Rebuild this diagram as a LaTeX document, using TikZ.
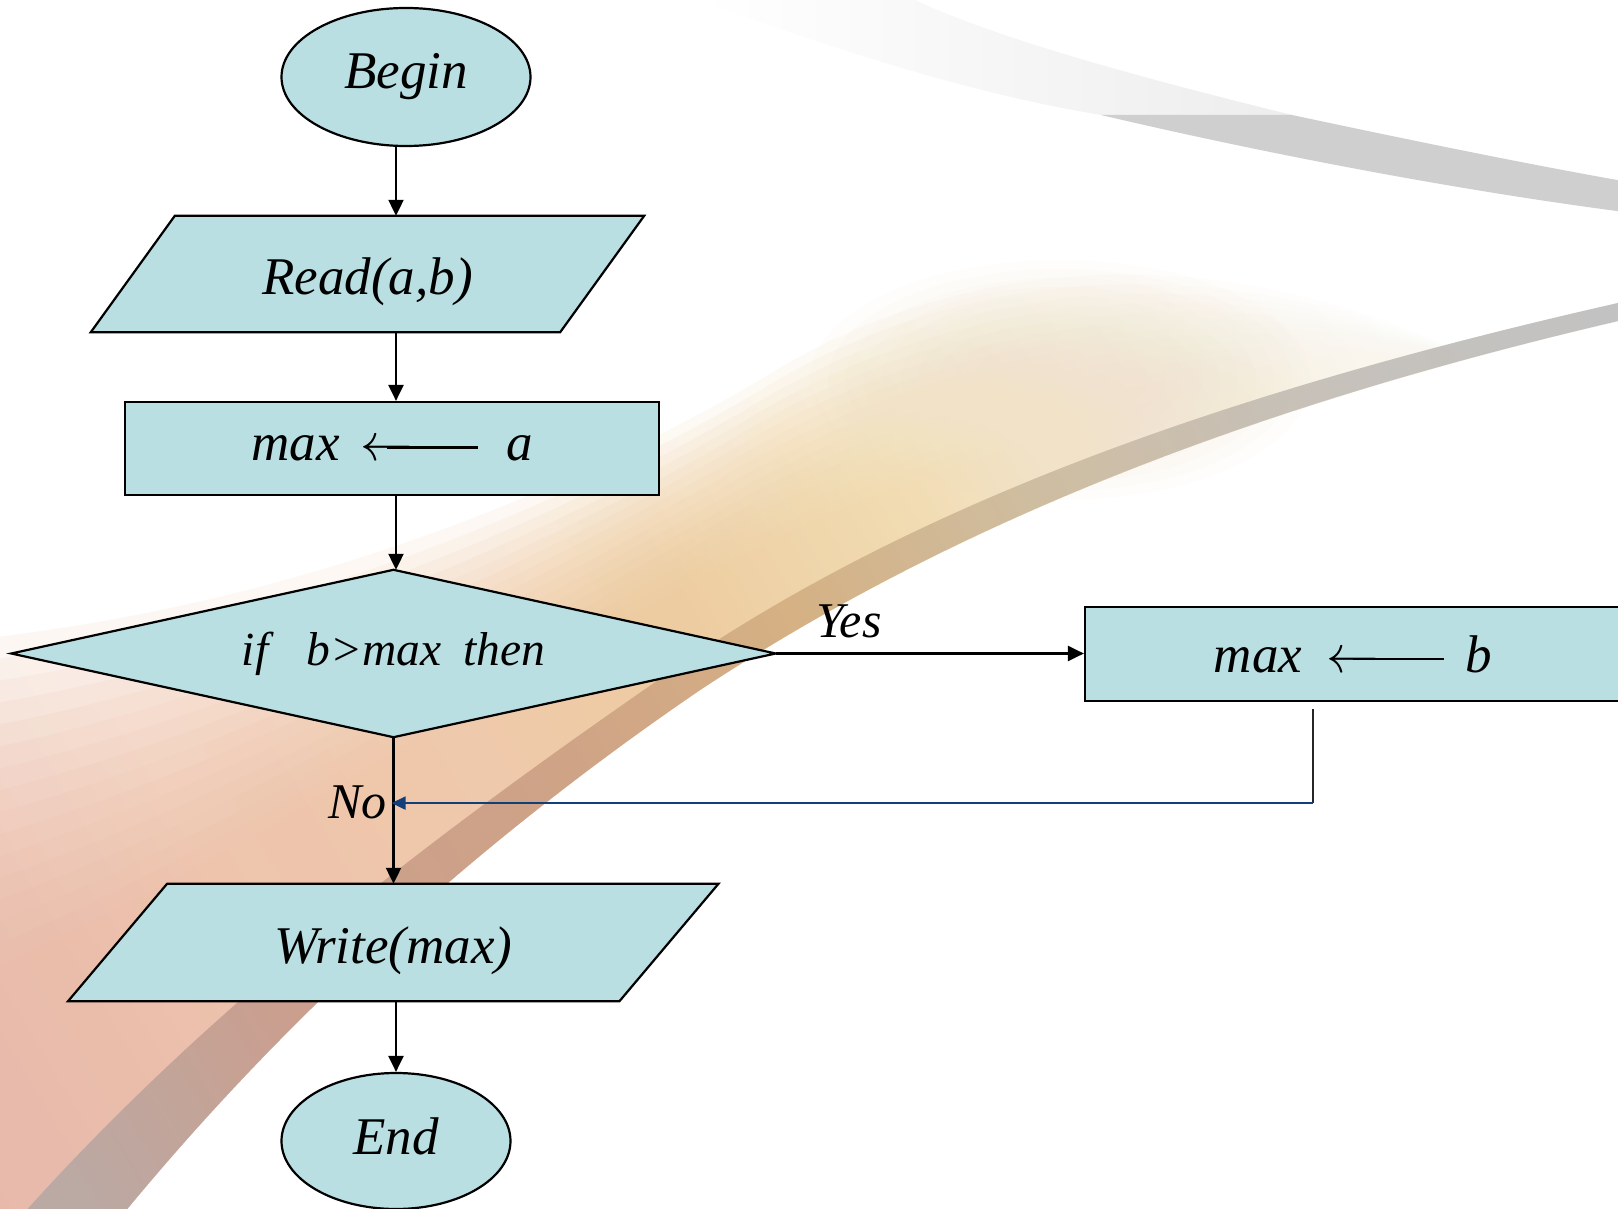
\RequirePackage{fix-cm}
\documentclass[tikz,border=0pt]{standalone}
\usepackage{fontspec}
\setmainfont{Liberation Serif}
\usetikzlibrary{shapes.geometric,arrows.meta,calc}

\definecolor{nodefill}{RGB}{185,223,226}
\definecolor{fbnavy}{RGB}{18,62,122}
% warm glow colours, bottom-left to top-right
\definecolor{glowA}{HTML}{E5AE9E}
\definecolor{glowB}{HTML}{E8B2A0}
\definecolor{glowC}{HTML}{EEBDA3}
\definecolor{glowD}{HTML}{EFC3A0}
\definecolor{glowE}{HTML}{EDC693}
\definecolor{glowF}{HTML}{F1D9A8}
\definecolor{glowG}{HTML}{F4E8D2}
\definecolor{glowH}{HTML}{FAF6EE}
% edge stripe colours
\definecolor{stA}{HTML}{B5AAA6}
\definecolor{stB}{HTML}{B8A8A3}
\definecolor{stC}{HTML}{C89C8C}
\definecolor{stD}{HTML}{CDA084}
\definecolor{stE}{HTML}{D3AF82}
\definecolor{stF}{HTML}{CDBA9C}
\definecolor{stG}{HTML}{C3BDB6}
\definecolor{stH}{HTML}{BDBDBD}
\definecolor{cloud}{HTML}{F1E2C8}

\pgfdeclarehorizontalshading{glowgrad}{100bp}{color(0bp)=(glowA); color(20bp)=(glowB); color(30bp)=(glowC); color(40bp)=(glowD); color(49bp)=(glowE); color(58bp)=(glowF); color(66bp)=(glowG); color(75bp)=(glowH); color(100bp)=(white)}
\pgfdeclarehorizontalshading{stripegrad}{100bp}{color(0bp)=(stA); color(19bp)=(stB); color(29bp)=(stC); color(42bp)=(stD); color(52bp)=(stE); color(61bp)=(stF); color(72bp)=(stG); color(83bp)=(stH); color(100bp)=(stH)}

\pgfdeclarelayer{deco}
\pgfdeclarelayer{plates}
\pgfsetlayers{deco,plates,main}

% long assignment arrow: arrow head plus a ruled shaft on the math axis
\newcommand\lassign{\mbox{$\leftarrow$\kern-0.5em\rule[0.23em]{1.72em}{0.04em}}}

\tikzset{
  flowtext/.style={font=\fontsize{53}{60}\selectfont\itshape},
  shapeline/.style={draw=black, line width=2.2pt, fill=nodefill, inner sep=0pt, flowtext},
  termnode/.style={shapeline, ellipse},
  procnode/.style={shapeline, rectangle, minimum width=534pt, minimum height=93pt},
  decnode/.style={rectangle, inner sep=0pt, minimum width=764pt, minimum height=167pt,
                  font=\fontsize{47.5}{54}\selectfont\itshape},
  ionode/.style={rectangle, inner sep=0pt, minimum height=116pt, flowtext,
                 text height=41pt, text depth=0pt},
  plate/.style={draw=black, line width=2.2pt, fill=nodefill},
  arr/.style={line width=2.2pt, -{Triangle[width=15pt,length=16pt]}},
  fbdown/.style={line width=1.6pt, draw=black!85},
  fbarr/.style={line width=1.8pt, draw=fbnavy, -{Triangle[width=13pt,length=14pt]}},
  lbl/.style={inner sep=0pt, font=\fontsize{50}{58}\selectfont\itshape}
}

\begin{document}
\begin{tikzpicture}[x=1pt,y=-1pt]
\useasboundingbox (0,0) rectangle (1618,1209);

% ---------- backdrop swooshes ----------
\begin{pgfonlayer}{deco}
\fill[white] (0,0) rectangle (1618,1209);
\begin{scope}
\clip (0,0) rectangle (1618,1209);
% warm glow, built up in soft layers
\foreach \k in {0,...,15}{
  \pgfmathsetmacro\t{\k/16}
  \shade[shading=glowgrad, shading angle=31, fill opacity=0.11]
    (1640,316) .. controls (1250,405) and (950,525) .. (700,690)
    .. controls (480,840) and (280,1020) .. (110,1230)
    -- (-30,1240)
    -- ($(-30,640)!\t!(-30,1000)$)
    .. controls ($(250,610)!\t!(200,900)$) and ($(520,520)!\t!(450,720)$) .. ($(760,380)!\t!(660,610)$)
    .. controls ($(950,260)!\t!(900,470)$) and ($(1200,230)!\t!(1200,395)$) .. (1470,356)
    -- cycle;
}
% pale cream cloud
\foreach \k in {0,...,9}{
  \fill[cloud, fill opacity=0.06] (1060,380) ellipse ({250-18*\k} and {120-9*\k});
}
% edge stripe of the big swoosh
\shade[shading=stripegrad, shading angle=31, fill opacity=0.92]
  (1640,316) .. controls (1250,405) and (950,525) .. (700,690)
  .. controls (480,840) and (280,1020) .. (110,1230)
  -- (0,1240)
  .. controls (200,1010) and (440,830) .. (680,665)
  .. controls (930,495) and (1250,385) .. (1640,298) -- cycle;
% upper grey ribbon: light part
\shade[left color=white, right color=black!7]
  (699,0) .. controls (850,55) and (980,95) .. (1101,115)
  -- (1292,115) .. controls (1150,80) and (1000,40) .. (915,0) -- cycle;
% upper grey ribbon: dark part
\fill[black!19]
  (1101,115) -- (1292,115) .. controls (1400,138) and (1530,165) .. (1640,184)
  -- (1640,214) .. controls (1450,190) and (1250,150) .. (1101,115) -- cycle;
\end{scope}
\end{pgfonlayer}

% ---------- flowchart nodes ----------
\node[termnode, minimum width=249pt, minimum height=138pt] (begin) at (406,77) {Begin};
\node[ionode, minimum width=469pt] (read) at (367.5,274) {Read(a,b)};
\node[procnode] (seta) at (392,448.5) {max\hspace{21pt}\lassign\hspace{28pt}a};
\node[decnode] (test) at (393.5,653.5) {if\hspace{38pt}b>max\hspace{22pt}then};
\node[procnode, minimum width=536pt, minimum height=94pt] (setb) at (1353,654) {max\hspace{24pt}\lassign\hspace{22pt}b};
\node[ionode, minimum width=551pt, minimum height=117pt] (write) at (393.25,942.5) {Write(max)};
\node[termnode, minimum width=229pt, minimum height=136pt, text height=35pt, text depth=8pt] (stop) at (396,1141) {End};

% diamond and parallelogram outlines behind their texts
\begin{pgfonlayer}{plates}
\filldraw[plate] (test.north) -- (test.east) -- (test.south) -- (test.west) -- cycle;
\foreach \n/\s in {read/42,write/49.5}{
  \filldraw[plate] ($(\n.north west)+(\s,0)$) -- ($(\n.north east)+(\s,0)$)
    -- ($(\n.south east)+(-\s,0)$) -- ($(\n.south west)+(-\s,0)$) -- cycle;
}
\end{pgfonlayer}

% ---------- connectors ----------
\coordinate (spine) at (396,0);
\draw[arr] (begin.south -| spine) -- (read.north -| spine);
\draw[arr] (read.south -| spine) -- (seta.north -| spine);
\draw[arr] (seta.south -| spine) -- (test.north -| spine);
\draw[arr] (test.south) -- (write.north -| test.south);
\draw[arr] (write.south -| spine) -- (stop.north -| spine);
\draw[arr] (test.east) -- (setb.west |- test.east);

\node[lbl] (yes) at (849,621) {Yes};
\node[lbl, anchor=east] (no) at (387,802) {No};

\coordinate (fbtop) at ($(setb.south)+(-40,7)$);
\coordinate (fbturn) at ($(fbtop)+(0,94)$);
\draw[fbdown] (fbtop) -- (fbturn);
\draw[fbarr, shorten >=-2pt] (fbturn) -- (fbturn -| test.south);
\end{tikzpicture}
\end{document}
